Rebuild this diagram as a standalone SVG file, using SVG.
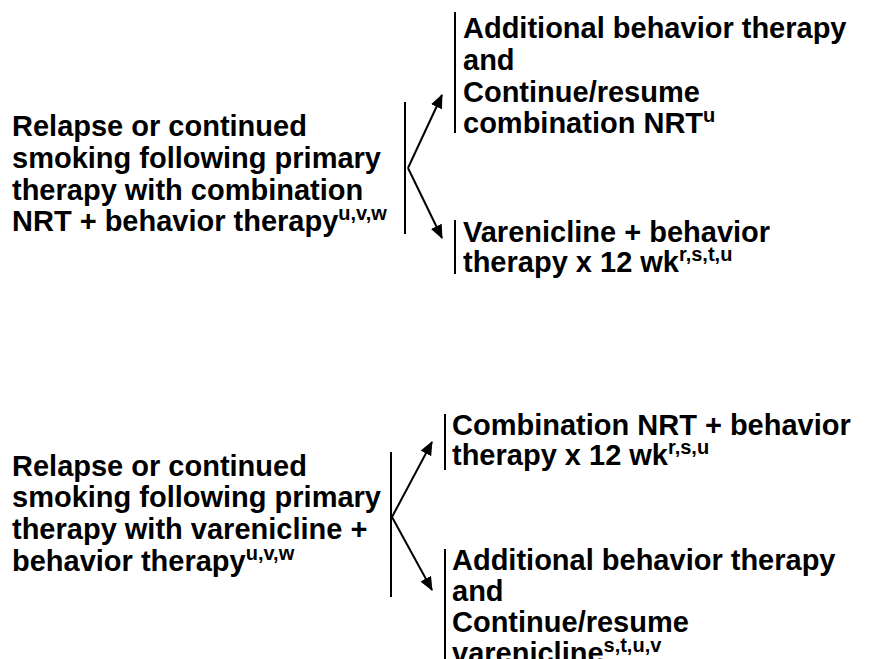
<svg xmlns="http://www.w3.org/2000/svg" width="873" height="659" viewBox="0 0 873 659">
<style>
text{font-family:"Liberation Sans",Arial,sans-serif;font-weight:bold;font-size:29px;fill:#000}
.sup{font-size:20px}
.bar{stroke:#000;stroke-width:2;fill:none}
.arr{stroke:#000;stroke-width:2;fill:none;marker-end:url(#ah)}
</style>
<defs>
<marker id="ah" markerWidth="14" markerHeight="12" refX="13" refY="6" orient="auto" markerUnits="userSpaceOnUse">
<path d="M0,0 L14,6 L0,12 Z" fill="#000"/>
</marker>
</defs>
<rect width="873" height="659" fill="#fff"/>
<g id="top-source">
<text><tspan x="12" y="136">Relapse or continued</tspan><tspan x="12" y="168">smoking following primary</tspan><tspan x="12" y="200">therapy with combination</tspan><tspan x="12" y="231">NRT + behavior therapy<tspan class="sup" dy="-11">u,v,w</tspan></tspan></text>
<line class="bar" x1="405" y1="102" x2="405" y2="234"/>
</g>
<g id="top-option1">
<line class="bar" x1="455" y1="12" x2="455" y2="133"/>
<text><tspan x="463" y="38">Additional behavior therapy</tspan><tspan x="463" y="70">and</tspan><tspan x="463" y="102">Continue/resume</tspan><tspan x="463" y="133">combination NRT<tspan class="sup" dy="-11">u</tspan></tspan></text>
</g>
<g id="top-option2">
<line class="bar" x1="455" y1="220" x2="455" y2="274"/>
<text><tspan x="463" y="242">Varenicline + behavior</tspan><tspan x="463" y="272">therapy x 12 wk<tspan class="sup" dy="-11">r,s,t,u</tspan></tspan></text>
</g>
<g id="bottom-source">
<text><tspan x="12" y="476">Relapse or continued</tspan><tspan x="12" y="507">smoking following primary</tspan><tspan x="12" y="539">therapy with varenicline +</tspan><tspan x="12" y="571">behavior therapy<tspan class="sup" dy="-11">u,v,w</tspan></tspan></text>
<line class="bar" x1="391" y1="452" x2="391" y2="597"/>
</g>
<g id="bottom-option1">
<line class="bar" x1="445" y1="414" x2="445" y2="470"/>
<text><tspan x="452" y="435">Combination NRT + behavior</tspan><tspan x="452" y="465">therapy x 12 wk<tspan class="sup" dy="-11">r,s,u</tspan></tspan></text>
</g>
<g id="bottom-option2">
<line class="bar" x1="445" y1="549" x2="445" y2="659"/>
<text><tspan x="452" y="570">Additional behavior therapy</tspan><tspan x="452" y="601">and</tspan><tspan x="452" y="632">Continue/resume</tspan><tspan x="452" y="663">varenicline<tspan class="sup" dy="-11">s,t,u,v</tspan></tspan></text>
</g>
<g id="connectors">
<line class="arr" x1="408" y1="168" x2="442" y2="95"/>
<line class="arr" x1="408" y1="168" x2="442" y2="238"/>
<line class="arr" x1="392" y1="517" x2="432" y2="442"/>
<line class="arr" x1="392" y1="517" x2="432" y2="590"/>
</g>
</svg>
